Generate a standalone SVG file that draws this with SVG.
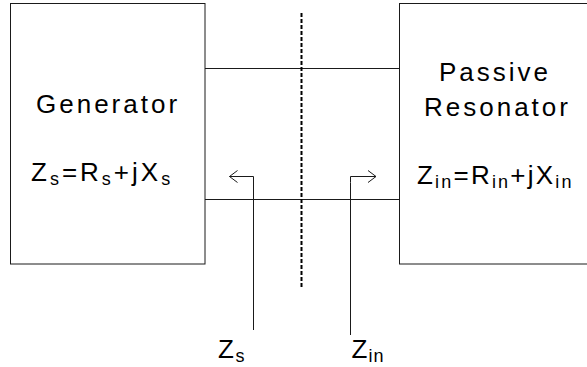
<svg xmlns="http://www.w3.org/2000/svg" width="587" height="367" viewBox="0 0 587 367">
<style>
.box{fill:#fff;stroke:#1a1a1a;stroke-width:1}
.ln{fill:none;stroke:#1a1a1a;stroke-width:1}
.t{font-family:"Liberation Sans",Arial,sans-serif;font-size:26px;fill:#000;letter-spacing:3px}
.sub{font-size:18px}
</style>
<defs>
<marker id="chev" viewBox="0 0 10 14" refX="9" refY="7" markerWidth="10" markerHeight="14" markerUnits="userSpaceOnUse" orient="auto">
<path d="M1,1 L9,7 L1,13" fill="none" stroke="#1a1a1a" stroke-width="1"/>
</marker>
</defs>
<rect width="587" height="367" fill="#fff"/>
<g id="connectors">
<line class="ln" x1="205" y1="68.5" x2="399.5" y2="68.5"/>
<line class="ln" x1="205" y1="199.5" x2="399.5" y2="199.5"/>
<line x1="301.5" y1="13" x2="301.5" y2="287" stroke="#000" stroke-width="2" stroke-dasharray="4,2"/>
<polyline class="ln" points="253.5,330 253.5,176.5 229.5,176.5" marker-end="url(#chev)"/>
<polyline class="ln" points="350.5,335 350.5,182.5 350.5,176.5 376,176.5" marker-end="url(#chev)"/>
</g>
<g id="generator">
<rect class="box" x="10.5" y="3.5" width="194.5" height="260.5"/>
<text class="t" x="36" y="113">Generator</text>
<text class="t" x="31" y="181">Z<tspan class="sub" dy="4">s</tspan><tspan dy="-4">=R</tspan><tspan class="sub" dy="4">s</tspan><tspan dy="-4">+jX</tspan><tspan class="sub" dy="4">s</tspan></text>
</g>
<g id="resonator">
<rect class="box" x="399.5" y="3.5" width="200" height="260.5"/>
<text class="t" x="439" y="81">Passive</text>
<text class="t" x="424" y="116">Resonator</text>
<text class="t" x="417" y="184" style="letter-spacing:2.2px">Z<tspan class="sub" dy="4">in</tspan><tspan dy="-4">=R</tspan><tspan class="sub" dy="4">in</tspan><tspan dy="-4">+jX</tspan><tspan class="sub" dy="4">in</tspan></text>
</g>
<g id="label-zs">
<text class="t" x="218" y="358" style="letter-spacing:1.5px">Z<tspan class="sub" dy="4">s</tspan></text>
</g>
<g id="label-zin">
<text class="t" x="351.5" y="358" style="letter-spacing:1px">Z<tspan class="sub" dy="4">in</tspan></text>
</g>
</svg>
